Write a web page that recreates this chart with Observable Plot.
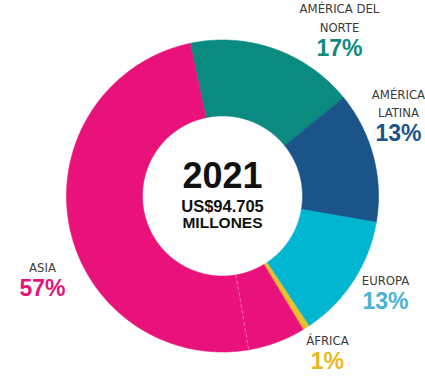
<!DOCTYPE html>
<html><head><meta charset="utf-8">
<script src="https://cdn.jsdelivr.net/npm/d3@7"></script>
<script src="https://cdn.jsdelivr.net/npm/@observablehq/plot@0.6"></script>
<style>
body{margin:0;background:#fff}
#chart svg{display:block}
</style>
</head><body><div id="chart"></div>
<script>
// ---- data ----
const slices = ["na", "la", "eu", "af", "as1", "as2"];
const shares = [17.5, 13.55, 12.95, 0.7, 5.95, 49.35]; // measured share of the ring
const sliceColors = ["#0b8b7f", "#1a5488", "#00b6d1", "#e9c12a", "#e8127a", "#e8127a"];
const regionNames = [["AMÉRICA DEL", "NORTE"], ["AMÉRICA", "LATINA"], ["EUROPA"], ["ÁFRICA"], ["ASIA"]];
const regionPercents = ["17%", "13%", "13%", "1%", "57%"];
const percentColors = ["#0e8a7f", "#1b5489", "#4ab3d3", "#e6b923", "#e3157b"];
const centerYear = "2021";
const centerAmount = "US$94.705";
const centerUnit = "MILLONES";

// ---- layout ----
const startAngle = -12;          // degrees clockwise from top
const R_OUT = 1, R_IN = 0.513;
const labelAngle = [38.4, 70.6, 123.0, 147.7, 242.8];
const labelRadius = [1.207, 1.196, 1.246, 1.259, 1.297];
const pxToY = 2 / 312;

const rad = Math.PI / 180;
const total = d3.sum(shares);
let acc = startAngle;
const arcs = slices.map((s, i) => {
  const a0 = acc, a1 = acc + shares[i] / total * 360;
  acc = a1;
  return {slice: s, color: sliceColors[i], a0, a1};
});
const pts = [];
for (const a of arcs) {
  const n = Math.max(2, Math.ceil((a.a1 - a.a0) / 0.5));
  for (let k = 0; k <= n; k++) {
    const t = (a.a0 + (a.a1 - a.a0) * k / n) * rad;
    pts.push({slice: a.slice, color: a.color, x: Math.sin(t) * R_OUT, y: Math.cos(t) * R_OUT});
  }
  for (let k = n; k >= 0; k--) {
    const t = (a.a0 + (a.a1 - a.a0) * k / n) * rad;
    pts.push({slice: a.slice, color: a.color, x: Math.sin(t) * R_IN, y: Math.cos(t) * R_IN});
  }
}
// dashed divider inside Asia
const divAngle = arcs[4].a1 * rad;
const divider = [{x1: Math.sin(divAngle) * R_IN, y1: Math.cos(divAngle) * R_IN,
                  x2: Math.sin(divAngle) * R_OUT, y2: Math.cos(divAngle) * R_OUT}];

const nameRows = [], pctRows = [];
regionNames.forEach((lines, i) => {
  const t = labelAngle[i] * rad, r = labelRadius[i];
  const x = Math.sin(t) * r, y = Math.cos(t) * r;
  pctRows.push({x, y, text: regionPercents[i], color: percentColors[i]});
  lines.forEach((ln, j) => {
    const dy = -21 - 18.5 * (lines.length - 1 - j);
    nameRows.push({x, y: y - dy * pxToY, text: ln});
  });
});

const chart = Plot.plot({
  width: 425, height: 382,
  marginLeft: 66, marginRight: 47, marginTop: 39.5, marginBottom: 30.5,
  x: {domain: [-1, 1], axis: null},
  y: {domain: [-1, 1], axis: null},
  color: {type: "identity"},
  style: {background: "#fff", overflow: "visible"},
  marks: [
    Plot.line(pts, {x: "x", y: "y", z: "slice", fill: "color", stroke: "color", strokeWidth: 0.6, curve: "linear-closed"}),
    Plot.link(divider, {x1: "x1", y1: "y1", x2: "x2", y2: "y2", stroke: "#fff", strokeOpacity: 0.4, strokeWidth: 1, strokeDasharray: "3,3"}),
    Plot.text(nameRows, {x: "x", y: "y", text: "text", fill: "#3a3a3a", fontSize: 13,
      fontFamily: "'Liberation Sans Narrow', 'DejaVu Sans Condensed', 'Liberation Sans', sans-serif"}),
    Plot.text(pctRows, {x: "x", y: "y", text: "text", fill: "color", fontSize: 23, fontWeight: "bold",
      fontFamily: "'Liberation Sans', Arial, sans-serif", style: "letter-spacing:2px"}),
    Plot.text([centerYear], {x: () => 0, y: () => 0, text: d => d, dy: -20, fontSize: 36, fontWeight: "bold", fill: "#111",
      fontFamily: "'Liberation Sans', Arial, sans-serif", style: "letter-spacing:2px"}),
    Plot.text([centerAmount], {x: () => 0, y: () => 0, text: d => d, dy: 10.5, fontSize: 16.5, fontWeight: "bold", fill: "#111",
      fontFamily: "'Liberation Sans', Arial, sans-serif"}),
    Plot.text([centerUnit], {x: () => 0, y: () => 0, text: d => d, dy: 27, fontSize: 15.5, fontWeight: "bold", fill: "#111",
      fontFamily: "'Liberation Sans', Arial, sans-serif"})
  ]
});
document.getElementById("chart").appendChild(chart);
</script>
</body></html>
